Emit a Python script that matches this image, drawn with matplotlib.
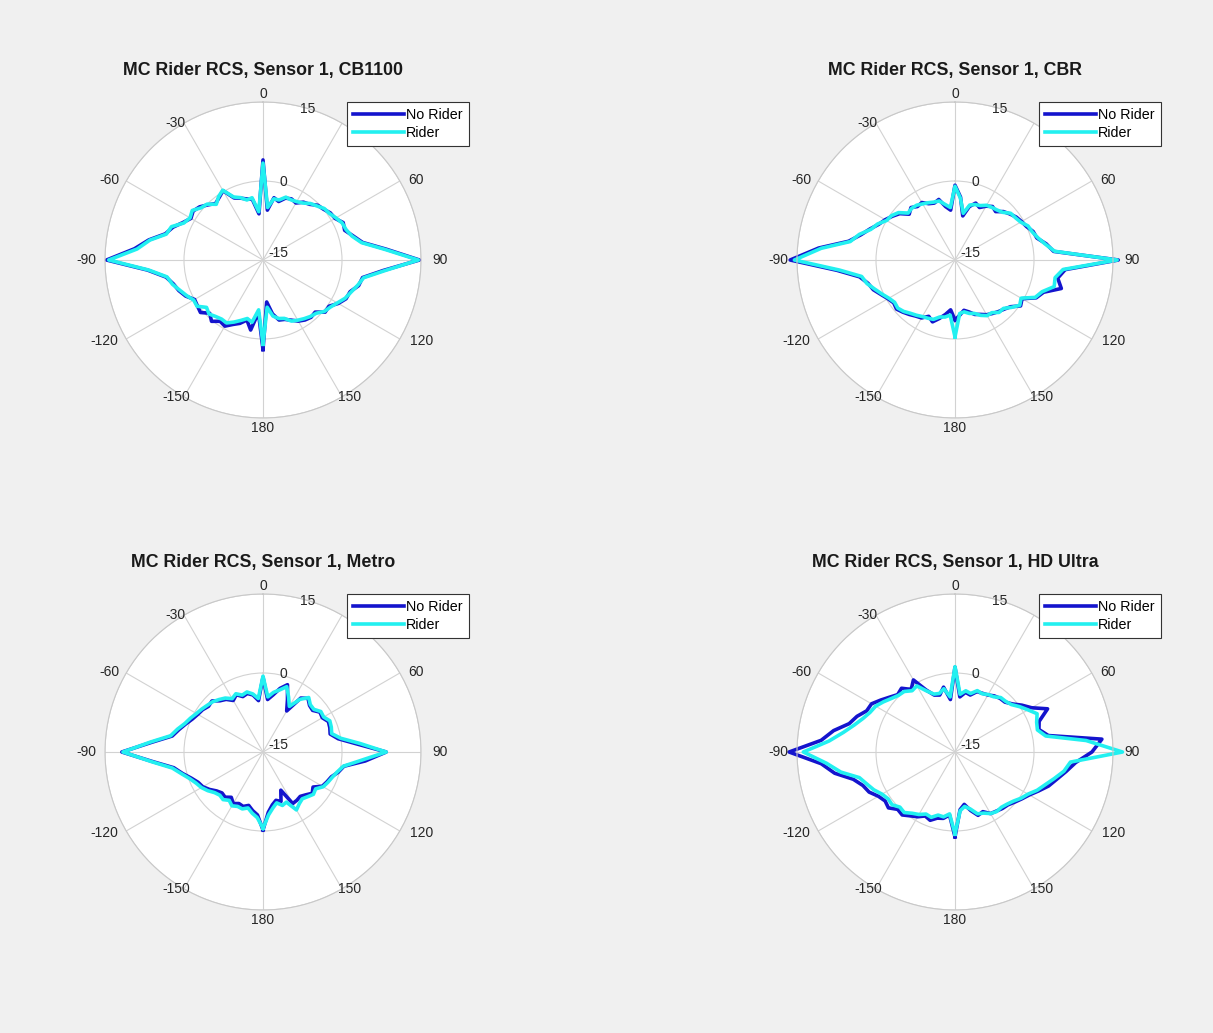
import numpy as np
import matplotlib.pyplot as plt

plt.rcParams['font.family'] = ['Liberation Sans', 'DejaVu Sans']

# sample angles in degrees (0 = straight ahead, clockwise), -180 .. 175
angles = np.arange(-180, 180, 5)

titles = ['MC Rider RCS, Sensor 1, CB1100', 'MC Rider RCS, Sensor 1, CBR',
          'MC Rider RCS, Sensor 1, Metro', 'MC Rider RCS, Sensor 1, HD Ultra']

theta_ticks = [0, 30, 60, 90, 120, 150, 180, 210, 240, 270, 300, 330]
theta_labels = ['0', '', '60', '90', '120', '150', '180',
                '-150', '-120', '-90', '-60', '-30']   # '30' sits under the legend
r_ticks = [-15, 0, 15]

# RCS in dBsm
cb1100_no_rider = [2.0, -5.0, -1.5, -3.2, -2.2, -1.5, -0.5, -0.8, 0.2, -0.7, 0.5, 0.2,
                   0.0, 1.2, 2.0, 2.6, 3.7, 7.0, 14.7, 9.5, 7.0, 4.2, 3.2, 1.8,
                   0.8, 1.2, 0.7, -0.2, -1.0, -0.5, 0.2, -2.0, -2.5, -3.0, -3.3, -6.2,
                   4.0, -5.5, -3.0, -3.5, -2.5, -2.2, -2.5, -1.6, -1.2, -0.3, 0.0, 0.6,
                   0.8, 1.8, 1.5, 2.7, 4.2, 8.5, 14.7, 7.9, 4.2, 3.8, 2.6, 2.4,
                   1.5, 0.3, 0.4, -1.0, -0.8, -1.1, -1.6, -2.4, -3.0, -3.2, -4.6, -7.0]
cb1100_rider = [1.0, -5.5, -3.0, -3.5, -2.8, -2.0, -1.2, -1.3, -1.0, -0.5, -1.0, 0.3,
                0.2, 1.0, 1.8, 2.8, 3.5, 6.8, 14.3, 9.0, 6.8, 4.0, 3.5, 1.6,
                1.0, 1.4, 0.4, 0.0, -1.2, -0.3, 0.3, -1.8, -2.4, -3.2, -3.0, -5.8,
                3.4, -5.0, -3.2, -3.2, -2.3, -2.4, -2.2, -1.8, -1.0, -0.5, 0.2, 0.4,
                1.0, 1.6, 1.8, 2.5, 4.0, 8.2, 14.5, 8.2, 4.4, 3.6, 2.8, 2.2,
                1.3, 0.6, 0.2, -0.7, -1.0, -1.4, -1.8, -2.2, -3.2, -3.5, -4.2, -6.0]

cbr_no_rider = [-3.6, -5.5, -4.5, -3.5, -2.5, -3.2, -2.3, -2.0, -1.5, -1.0, -0.5, -0.8,
                -0.3, 0.5, 1.5, 2.1, 3.4, 7.5, 16.3, 11.0, 5.5, 3.5, 2.2, 1.0,
                0.3, -0.5, -1.3, -2.7, -2.0, -2.6, -2.4, -3.2, -3.5, -3.1, -4.7, -5.5,
                -0.8, -3.0, -6.5, -4.5, -3.5, -4.0, -3.2, -2.6, -3.0, -2.0, -1.4, -0.8,
                -0.4, 0.0, 0.8, 1.1, 2.6, 3.8, 16.0, 6.0, 4.8, 5.9, 2.9, 2.0,
                -0.3, 0.2, -1.2, -1.8, -2.2, -2.6, -3.0, -3.6, -4.0, -4.8, -5.3, -4.5]
cbr_rider = [-0.4, -4.5, -4.0, -3.8, -3.0, -2.8, -2.6, -2.2, -1.8, -1.2, -0.8, -1.0,
             -0.5, 0.3, 1.2, 2.3, 3.0, 7.0, 15.5, 10.5, 5.2, 3.8, 2.0, 1.2,
             0.0, -0.3, -1.0, -2.4, -2.2, -2.3, -2.7, -3.0, -3.3, -3.4, -4.3, -5.0,
             -1.0, -3.2, -6.0, -4.2, -3.8, -3.6, -3.0, -2.8, -2.6, -2.2, -1.2, -1.0,
             -0.6, 0.3, 0.6, 1.3, 2.4, 4.0, 15.8, 5.6, 4.3, 4.5, 2.6, 1.8,
             -0.5, 0.0, -1.0, -2.0, -2.0, -2.8, -2.8, -3.4, -4.2, -4.5, -5.0, -4.8]

metro_no_rider = [-0.2, -3.0, -3.7, -4.5, -4.0, -4.2, -3.7, -4.5, -3.8, -4.0, -3.5, -2.6,
                  -1.8, -1.4, -0.5, 0.8, 2.2, 6.0, 11.8, 6.2, 2.5, 1.5, 0.6, -0.2,
                  -0.7, -1.0, -1.5, -1.3, -2.3, -2.8, -3.7, -3.0, -3.8, -3.5, -4.0, -5.2,
                  -0.8, -5.0, -4.0, -2.5, -1.4, -4.0, -6.0, -2.5, -1.7, -2.5, -2.7, -1.8,
                  -2.0, -1.3, -1.5, -1.8, -0.5, 2.8, 8.4, 4.5, 0.6, -0.2, -1.2, -1.6,
                  -2.0, -3.4, -2.8, -3.5, -4.0, -3.8, -3.7, -7.0, -5.0, -5.5, -4.8, -3.5]
metro_rider = [-0.5, -2.5, -3.2, -4.0, -3.5, -3.6, -3.2, -3.8, -3.2, -3.4, -3.0, -2.2,
               -1.5, -1.0, -0.2, 1.0, 2.5, 6.2, 11.6, 6.5, 2.8, 1.8, 0.8, 0.2,
               -0.4, -0.8, -1.2, -1.5, -2.0, -2.5, -3.3, -2.8, -3.5, -3.2, -3.8, -4.8,
               -0.6, -4.5, -3.5, -2.8, -1.8, -3.5, -5.0, -2.8, -1.5, -2.3, -2.4, -1.6,
               -1.7, -1.0, -1.2, -1.5, 0.0, 3.5, 8.4, 3.6, 0.5, -0.4, -1.0, -1.4,
               -1.8, -2.8, -2.5, -3.0, -3.4, -3.0, -2.3, -4.5, -4.2, -5.0, -4.2, -3.0]

hd_no_rider = [1.1, -3.0, -2.2, -2.0, -1.2, -1.6, -0.8, -0.2, 0.6, 0.4, 1.5, 1.2,
               1.8, 3.0, 3.6, 5.0, 8.2, 10.5, 16.5, 10.5, 8.4, 5.8, 4.8, 3.5,
               3.3, 2.2, 1.2, 0.4, 0.8, -0.5, 0.8, -2.0, -3.5, -3.8, -2.5, -5.0,
               1.1, -4.5, -3.5, -3.8, -2.8, -2.7, -2.5, -2.0, -1.7, -1.6, -0.8, 0.5,
               1.8, 4.4, 2.0, 1.5, 3.0, 13.0, 11.0, 8.0, 6.4, 5.0, 3.9, 2.5,
               1.3, 0.5, -0.2, -0.8, -1.0, -1.3, -1.5, -2.5, -2.2, -3.5, -4.9, -4.0]
hd_rider = [0.6, -3.2, -2.5, -2.6, -1.8, -2.0, -1.3, -0.8, 0.0, -0.2, 0.6, 0.5,
            1.0, 2.0, 2.8, 3.8, 7.0, 9.5, 13.8, 9.0, 6.5, 4.8, 3.6, 2.8,
            2.4, 1.6, 0.8, 0.2, 0.0, -0.8, -0.5, -2.2, -3.3, -3.5, -2.8, -4.5,
            1.2, -4.0, -3.2, -3.5, -2.6, -2.8, -2.4, -2.2, -1.5, -1.4, -1.0, 0.0,
            1.0, 2.2, 1.5, 1.2, 2.5, 10.0, 16.8, 7.0, 6.0, 4.5, 3.2, 2.2,
            1.0, 0.3, -0.5, -1.0, -1.3, -1.2, -1.5, -2.2, -2.5, -3.8, -4.5, -3.8]

no_rider = [cb1100_no_rider, cbr_no_rider, metro_no_rider, hd_no_rider]
rider = [cb1100_rider, cbr_rider, metro_rider, hd_rider]

W, H = 1213, 1033
centers = [(263, 260), (955, 260), (263, 752), (955, 752)]
R = 158
dB_per_px = 30 / R

# where MATLAB puts the angle labels: (shift towards horizontal in deg, distance in px)
label_place = {0: (0, 166), 30: (2.5, 163), 60: (2.5, 173), 90: (0, 177),
               120: (3, 178), 150: (2.5, 162), 180: (0, 168)}

fig = plt.figure(figsize=(W / 100, H / 100), dpi=100)
fig.patch.set_facecolor('#f0f0f0')

th = np.deg2rad(np.append(angles, angles[0] + 360))

for k in range(4):
    cx, cy = centers[k]
    ax = fig.add_axes([(cx - R) / W, 1 - (cy + R) / H, 2 * R / W, 2 * R / H],
                      projection='polar')
    ax.set_facecolor('white')
    ax.set_theta_zero_location('N')
    ax.set_theta_direction(-1)

    ax.plot(th, np.append(no_rider[k], no_rider[k][0]), color='#1414cd',
            lw=2.6, label='No Rider', clip_on=False)
    ax.plot(th, np.append(rider[k], rider[k][0]), color='#22f0f0',
            lw=2.6, label='Rider', clip_on=False)

    ax.set_rlim(-15, 15)
    ax.set_rticks(r_ticks)
    ax.set_yticklabels([])
    ax.set_xticks(np.deg2rad(theta_ticks))
    ax.set_xticklabels([])
    ax.grid(color='#d2d2d2', lw=0.8)
    ax.spines['polar'].set_color('#c8c8c8')

    # angle labels just outside the rim
    for a, lab in zip(theta_ticks, theta_labels):
        if not lab:
            continue
        folded = a if a <= 180 else 360 - a
        shift, dist = label_place[folded]
        if folded > 90:
            shift = -shift
        ang = a + shift if a <= 180 else a - shift
        ax.text(np.deg2rad(ang), -15 + dist * dB_per_px, lab,
                ha='center', va='center', fontsize=10, color='#262626', clip_on=False)

    # radial labels
    ax.text(np.deg2rad(15), 0.3, '0', ha='center', va='center', fontsize=10, color='#262626')
    ax.text(np.deg2rad(16.5), 15.0, '15', ha='center', va='center', fontsize=10,
            color='#262626', clip_on=False)
    ax.annotate('-15', xy=(0, -15), xytext=(15, 7), textcoords='offset pixels',
                ha='center', va='center', fontsize=10, color='#262626')

    fig.text(cx / W, 1 - (cy - 190) / H, titles[k], ha='center', va='center',
             fontsize=12.8, fontweight='bold', color='#1a1a1a')

    leg = ax.legend(loc='upper left', bbox_to_anchor=((cx + 84) / W, 1 - (cy - 158) / H),
                    bbox_transform=fig.transFigure, fancybox=False, framealpha=1,
                    edgecolor='#333333', fontsize=10.3, handlelength=3.5,
                    handletextpad=0.2, borderpad=0.45, labelspacing=0.25, borderaxespad=0)
    leg.get_frame().set_linewidth(0.8)
    for line in leg.get_lines():
        line.set_linewidth(2.6)

fig.savefig('out.png', dpi=100, facecolor=fig.get_facecolor())
